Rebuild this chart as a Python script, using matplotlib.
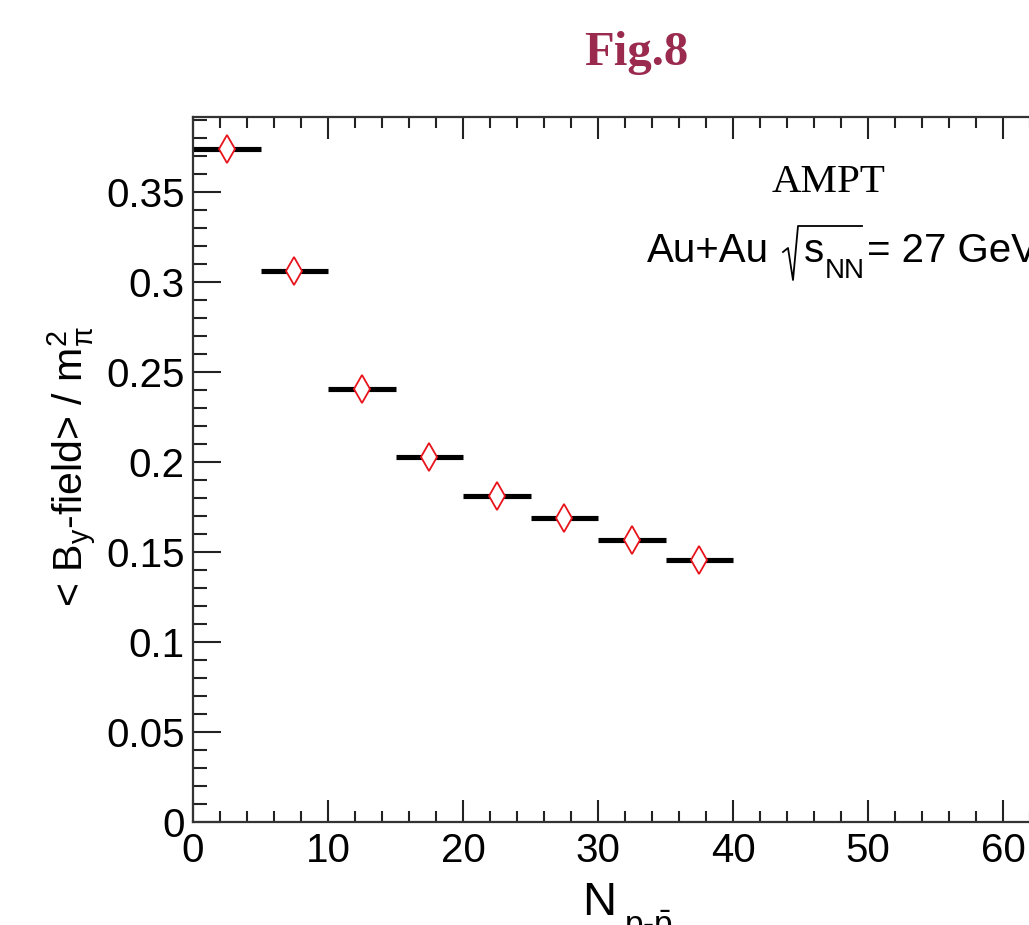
import numpy as np
import matplotlib
matplotlib.use('Agg')
import matplotlib.pyplot as plt
from matplotlib.lines import Line2D
from matplotlib.ticker import MultipleLocator, FixedLocator, FixedFormatter

# data
n_centers = [2.5, 7.5, 12.5, 17.5, 22.5, 27.5, 32.5, 37.5]
n_halfwidth = [2.5] * 8
b_field = [0.3736, 0.3061, 0.2406, 0.2028, 0.1809, 0.1686, 0.1565, 0.1454]

y_ticks = [0, 0.05, 0.1, 0.15, 0.2, 0.25, 0.3, 0.35]
y_ticklabels = ['0', '0.05', '0.1', '0.15', '0.2', '0.25', '0.3', '0.35']
x_ticks = [0, 10, 20, 30, 40, 50, 60, 70]
x_ticklabels = ['0', '10', '20', '30', '40', '50', '60', '70']

plt.rcParams['font.family'] = ['Liberation Sans', 'DejaVu Sans']
plt.rcParams['mathtext.fontset'] = 'custom'
plt.rcParams['mathtext.rm'] = 'Liberation Sans'
plt.rcParams['mathtext.it'] = 'Liberation Sans'
plt.rcParams['mathtext.bf'] = 'Liberation Sans:bold'

W, H = 1029, 925
fig = plt.figure(figsize=(W / 100, H / 100), dpi=100)


def fx(px):
    return px / W


def fy(py):
    return 1 - py / H


# axes placed in pixel terms, right part runs past the figure edge
px_per_unit = 13.5
left_px, bottom_px, top_px = 193, 822, 116.7
xmax = 70
ymax = 0.3917
ax = fig.add_axes([fx(left_px), fy(bottom_px),
                   xmax * px_per_unit / W, (bottom_px - top_px) / H])

ax.errorbar(n_centers, b_field, xerr=n_halfwidth, fmt='none',
            ecolor='black', elinewidth=3.7, capsize=0, zorder=2)
ax.plot(n_centers, b_field, linestyle='none', marker='d', ms=14.3,
        mfc='white', mec='#e8141c', mew=1.3, zorder=3)

ax.set_xlim(0, xmax)
ax.set_ylim(0, ymax)

ax.yaxis.set_major_locator(FixedLocator(y_ticks))
ax.yaxis.set_major_formatter(FixedFormatter(y_ticklabels))
ax.yaxis.set_minor_locator(MultipleLocator(0.01))
ax.xaxis.set_major_locator(FixedLocator(x_ticks))
ax.xaxis.set_major_formatter(FixedFormatter(x_ticklabels))
ax.xaxis.set_minor_locator(MultipleLocator(2))

ax.tick_params(axis='both', which='both', direction='in', colors='#222222',
               labelcolor='black', labelsize=29, width=1.5)
ax.tick_params(axis='x', which='major', length=15.5, top=True, pad=7)
ax.tick_params(axis='x', which='minor', length=8, top=True)
ax.tick_params(axis='y', which='major', length=20, right=False, pad=6)
ax.tick_params(axis='y', which='minor', length=10, right=False)

for s in ax.spines.values():
    s.set_linewidth(1.6)
    s.set_color('#333333')

# y label
fig.text(fx(72), fy(467), r'< B$_{y}$-field> / m$_{\pi}^{2}$',
         rotation=90, ha='center', va='center', fontsize=29.5)

# x label, subscript set lower like ROOT does
fig.text(fx(582), fy(915), 'N', ha='left', va='baseline', fontsize=34)
fig.text(fx(624), fy(935), r'p-$\bar{\mathrm{p}}$', ha='left', va='baseline',
         fontsize=24)

# legend-ish text
fig.text(fx(829), fy(183), 'AMPT', family='Liberation Serif',
         ha='center', va='center', fontsize=29.5)
fig.text(fx(647), fy(262), 'Au+Au', ha='left', va='baseline', fontsize=29)
fig.add_artist(Line2D([fx(783), fx(788), fx(793), fx(798), fx(862)],
                      [fy(252), fy(248), fy(280), fy(226), fy(226)],
                      transform=fig.transFigure, color='black', lw=1.3))
fig.text(fx(804), fy(262), 's', ha='left', va='baseline', fontsize=29)
fig.text(fx(825), fy(278), 'NN', ha='left', va='baseline', fontsize=20)
fig.text(fx(867), fy(262), '= 27 GeV', ha='left', va='baseline', fontsize=29)

fig.text(fx(636), fy(65), 'Fig.8', family='Liberation Serif',
         weight='bold', color='#9b2a4f', ha='center', va='baseline',
         fontsize=35)

fig.savefig('out.png', dpi=100)
